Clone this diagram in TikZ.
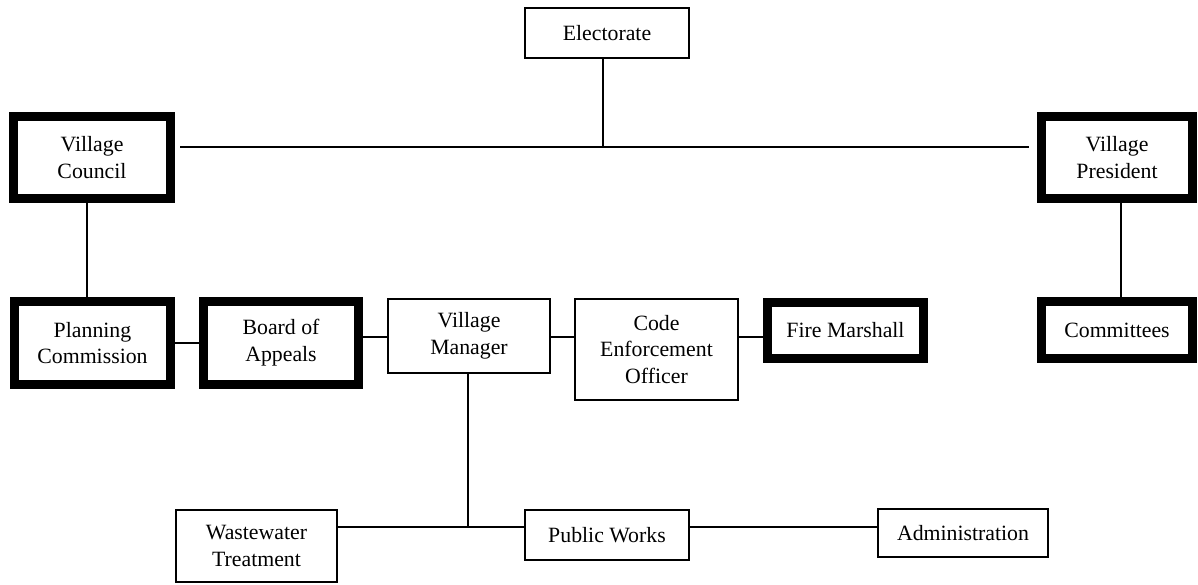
\documentclass[tikz,border=0pt]{standalone}
\usepackage{fontspec}
\setmainfont{Liberation Serif}
\begin{document}
\begin{tikzpicture}[x=0.5pt,y=-0.5pt,
  box/.style={draw=black,line width=1.1pt,fill=white,align=center,inner sep=0pt,
    font=\fontsize{10.9pt}{13.4pt}\selectfont},
  thickbox/.style={box,line width=4.5pt},
  conn/.style={draw=black,line width=1.1pt}]
\useasboundingbox (0,0) rectangle (1198,584);
\fill[white] (0,0) rectangle (1198,584);
% nodes
\node[box,minimum width=82pt,minimum height=25pt] (elect) at (607,33) {Electorate};
\node[thickbox,minimum width=78.5pt,minimum height=41pt] (vc) at (92,157.5) {Village\\Council};
\node[thickbox,minimum width=75.5pt,minimum height=41pt] (vp) at (1117,157.5) {Village\\President};
\node[thickbox,minimum width=78pt,minimum height=41.5pt] (pc) at (92.5,343) {Planning\\Commission};
\node[thickbox,minimum width=77.5pt,minimum height=41.5pt] (ba) at (281,343) {Board of\\Appeals};
\node[box,minimum width=81pt,minimum height=37pt] (vm) at (469,336) {Village\\Manager};
\node[box,minimum width=81.5pt,minimum height=50.5pt] (ceo) at (656.5,349.5) {Code\\Enforcement\\Officer};
\node[thickbox,minimum width=78pt,minimum height=28pt] (fm) at (845.5,330.5) {Fire Marshall};
\node[thickbox,minimum width=75.5pt,minimum height=28.5pt] (com) at (1117,330) {Committees};
\node[box,minimum width=80.5pt,minimum height=36pt] (wt) at (256.5,546) {Wastewater\\Treatment};
\node[box,minimum width=82pt,minimum height=25pt] (pw) at (607,535) {Public Works};
\node[box,minimum width=85pt,minimum height=24pt] (adm) at (963,533) {Administration};
% junctions
\coordinate (jtop) at (603,147);
\coordinate (jbot) at (468,527);
\coordinate (xvc) at (87,0);
\coordinate (xvp) at (1121,0);
\coordinate (ymid) at (0,337);
% connectors
\draw[conn] (jtop |- elect.south) -- (jtop);
\draw[conn,shorten <=2.5pt,shorten >=4pt] (vc.east |- jtop) -- (vp.west |- jtop);
\draw[conn] (xvc |- vc.south) -- (xvc |- pc.north);
\draw[conn] (xvp |- vp.south) -- (xvp |- com.north);
\draw[conn] (pc.east) -- (ba.west);
\draw[conn] (ba.east |- ymid) -- (vm.west |- ymid);
\draw[conn] (vm.east |- ymid) -- (ceo.west |- ymid);
\draw[conn] (ceo.east |- ymid) -- (fm.west |- ymid);
\draw[conn] (jbot |- vm.south) -- (jbot);
\draw[conn] (wt.east |- jbot) -- (pw.west |- jbot);
\draw[conn] (pw.east |- jbot) -- (adm.west |- jbot);
\end{tikzpicture}
\end{document}
